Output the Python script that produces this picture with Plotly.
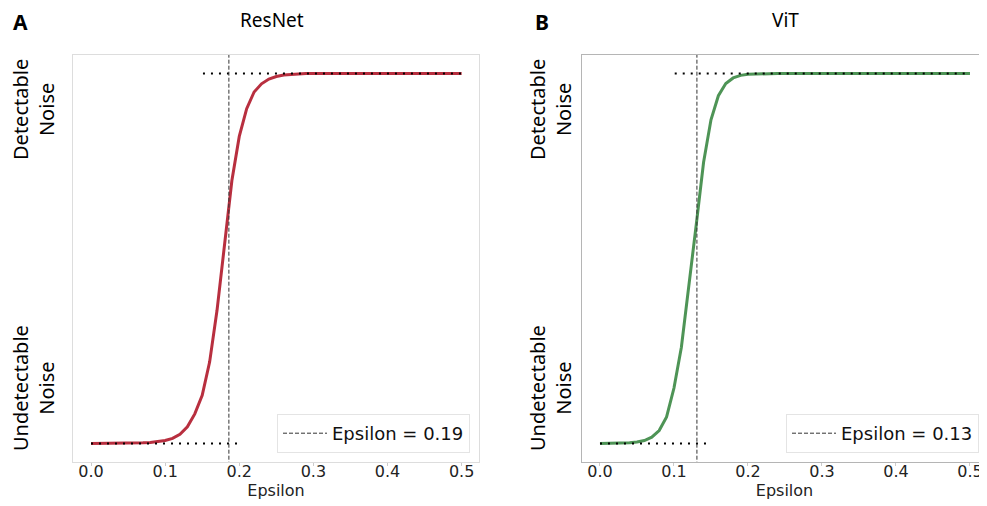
import plotly.graph_objects as go

eps = [round(i * 0.01, 2) for i in range(51)]

resnet_vals = [0.0, 0.0, 0.0, 0.0, 0.0, 0.001, 0.001, 0.002, 0.003, 0.005,
               0.008, 0.014, 0.025, 0.045, 0.08, 0.13, 0.22, 0.36, 0.54, 0.71,
               0.83, 0.905, 0.95, 0.972, 0.985, 0.992, 0.996, 0.998, 0.999, 1.0] + [1.0] * 21
vit_vals = [0.0, 0.0, 0.0, 0.001, 0.002, 0.004, 0.008, 0.017, 0.035, 0.072,
            0.15, 0.26, 0.42, 0.59, 0.76, 0.875, 0.94, 0.973, 0.988, 0.995,
            0.998, 0.999] + [1.0] * 29

resnet_eps = 0.186
vit_eps = 0.131
resnet_label = "Epsilon = 0.19"
vit_label = "Epsilon = 0.13"

resnet_upper = [0.151, 0.5]
resnet_lower = [0.0, 0.205]
vit_upper = [0.101, 0.5]
vit_lower = [0.0, 0.145]

titles = ["ResNet", "ViT"]
panel_letters = ["A", "B"]
xticks = [0.0, 0.1, 0.2, 0.3, 0.4, 0.5]
xtick_text = ["0.0", "0.1", "0.2", "0.3", "0.4", "0.5"]

RED = "#b52435"
GREEN = "#458f4d"

# page body offset compensation
OFF = 8
W, H = 987 - OFF, 506 - OFF


def px(v):
    return (v - OFF) / W


def py(v):
    return 1 - (v - OFF) / H


fig = go.Figure()

panels = [
    ("x", "y", resnet_vals, RED, resnet_eps, resnet_label, resnet_upper, resnet_lower, "legend"),
    ("x2", "y2", vit_vals, GREEN, vit_eps, vit_label, vit_upper, vit_lower, "legend2"),
]
for xa, ya, vals, col, e, lab, up, lo, leg in panels:
    fig.add_trace(go.Scatter(x=eps, y=vals, mode="lines", xaxis=xa, yaxis=ya,
                             line=dict(color=col, width=3), showlegend=False, opacity=0.95))
    fig.add_trace(go.Scatter(x=up, y=[1, 1], mode="lines", xaxis=xa, yaxis=ya,
                             line=dict(color="black", width=2, dash="2px,6px"), showlegend=False))
    fig.add_trace(go.Scatter(x=lo, y=[0, 0], mode="lines", xaxis=xa, yaxis=ya,
                             line=dict(color="black", width=2, dash="2px,6px"), showlegend=False))
    fig.add_trace(go.Scatter(x=[e, e], y=[-0.06, 1.06], mode="lines", xaxis=xa, yaxis=ya,
                             line=dict(color="#333333", width=1, dash="4px,2px"),
                             name=lab, showlegend=True, legend=leg))

tick_font = dict(family="DejaVu Sans", size=16, color="#222222")
common_x = dict(tickvals=xticks, ticktext=xtick_text, ticks="outside", ticklen=3,
                tickcolor="#cccccc", tickfont=tick_font, showgrid=False, zeroline=False,
                showline=True, mirror=True, ticklabelstandoff=-8,
                title=dict(text="Epsilon", font=tick_font, standoff=0))
common_y = dict(range=[-0.05, 1.05], showticklabels=False, ticks="", showgrid=False,
                zeroline=False, showline=True, mirror=True)

legend_common = dict(bgcolor="white", bordercolor="#e4e4e4", borderwidth=1,
                     font=dict(family="DejaVu Sans", size=18, color="#111111"),
                     xanchor="right", yanchor="bottom", itemwidth=44)

fig.update_layout(
    width=W, height=H, margin=dict(l=0, r=0, t=0, b=0),
    paper_bgcolor="white", plot_bgcolor="white",
    xaxis=dict(domain=[px(73), px(479)], range=[-0.0243, 0.5234], anchor="y",
               linecolor="#dddddd", **common_x),
    yaxis=dict(domain=[py(462), py(55)], anchor="x", linecolor="#dddddd", **common_y),
    xaxis2=dict(domain=[px(582), 1.0], range=[-0.0243, 0.523], anchor="y2",
                linecolor="#b5b5b5", **common_x),
    yaxis2=dict(domain=[py(462), py(55)], anchor="x2", linecolor="#b5b5b5", **common_y),
    legend=dict(x=px(470), y=py(453), **legend_common),
    legend2=dict(x=px(979), y=py(453), **legend_common),
)

label_font = dict(family="Noto Sans", size=20, color="black")
ann = []
for i, (tx, lx, cx) in enumerate([(272, 20, 33), (785, 542, 550)]):
    ann.append(dict(text=titles[i], x=px(tx), y=py(20), xref="paper", yref="paper",
                    showarrow=False, font=dict(family="Noto Sans", size=19, color="black"),
                    xanchor="center", yanchor="middle"))
    ann.append(dict(text="<b>" + panel_letters[i] + "</b>", x=px(lx), y=py(22),
                    xref="paper", yref="paper", showarrow=False,
                    font=dict(family="Noto Sans", size=21, color="black"),
                    xanchor="center", yanchor="middle"))
    ann.append(dict(text="Detectable<br>Noise", x=px(cx), y=py(110), xref="paper",
                    yref="paper", showarrow=False, textangle=-90, font=label_font,
                    xanchor="center", yanchor="middle"))
    ann.append(dict(text="Undetectable<br>Noise", x=px(cx), y=py(388), xref="paper",
                    yref="paper", showarrow=False, textangle=-90, font=label_font,
                    xanchor="center", yanchor="middle"))
fig.update_layout(annotations=ann)

fig.write_html("out.html")
